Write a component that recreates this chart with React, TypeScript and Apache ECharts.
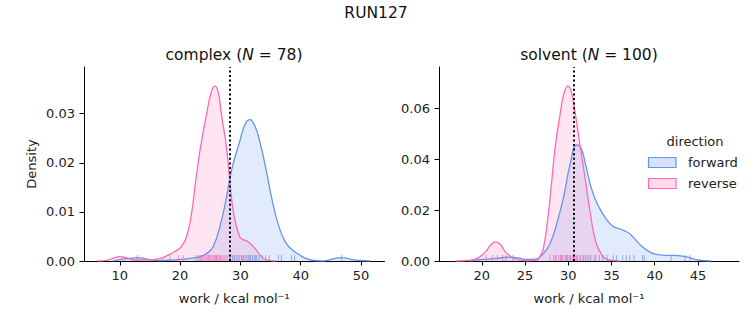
import React, { useEffect, useRef } from "react";
import * as echarts from "echarts";

const FONT = "DejaVu Sans";
const BLUE = "#6495ED";
const PINK = "#FF69B4";
const BLUE_FILL = "rgba(100,149,237,0.27)";
const PINK_FILL = "rgba(255,105,180,0.25)";

// KDE curves: [work, density]
const complexForward: number[][] = [
  [8.9, 0], [9.6, 0.0002], [11.3, 0.0005], [12.9, 0.0007], [14.5, 0.0004], [16.5, 0.0001],
  [18.5, 0.0002], [20.5, 0.0004], [22.0, 0.0006], [23.3, 0.0009], [24.5, 0.0016], [25.47, 0.0029],
  [26.58, 0.0069], [27.7, 0.013], [28.52, 0.0184], [29.9, 0.0244], [30.8, 0.0279], [31.56, 0.0288],
  [32.4, 0.0275], [33.2, 0.0244], [34.3, 0.0184], [35.16, 0.013], [36.25, 0.0076], [37.5, 0.0038],
  [38.7, 0.0022], [40.0, 0.0011], [40.9, 0.0005], [42.2, 0.0001], [43.5, 0.0], [45.0, 0.0003],
  [46.8, 0.0007], [48.5, 0.0003], [50.0, 0.0001], [51.5, 0],
];
const complexReverse: number[][] = [
  [6.4, 0], [8.0, 0.0002], [9.0, 0.0006], [10.0, 0.0009], [11.0, 0.0007], [12.5, 0.0002],
  [14.5, 0.0002], [16.7, 0.0005], [18.0, 0.0012], [19.2, 0.002], [20.2, 0.0029], [21.06, 0.0049],
  [21.89, 0.0096], [22.6, 0.0164], [23.38, 0.0231], [24.38, 0.0298], [25.1, 0.034], [25.75, 0.0356],
  [26.3, 0.0345], [26.86, 0.0298], [27.7, 0.0231], [28.24, 0.0164], [28.9, 0.0096], [29.9, 0.0049],
  [30.6, 0.0043], [31.27, 0.0039], [32.4, 0.0026], [33.5, 0.0009], [34.5, 0.0002], [36.0, 0],
];
const solventForward: number[][] = [
  [18.5, 0], [19.5, 0.0004], [20.5, 0.0007], [21.6, 0.001], [23.1, 0.0015], [24.2, 0.0012],
  [25.2, 0.0006], [26.2, 0.0007], [27.13, 0.003], [27.9, 0.0069], [28.68, 0.0148], [29.46, 0.0252],
  [30.23, 0.0383], [31.0, 0.0457], [31.5, 0.0443], [31.98, 0.0383], [32.75, 0.0278], [33.53, 0.0213],
  [34.5, 0.0161], [35.2, 0.0136], [36.05, 0.0125], [37.0, 0.011], [37.5, 0.0094], [38.6, 0.0055],
  [39.5, 0.0034], [40.2, 0.0026], [41.2, 0.0022], [42.1, 0.0022], [43.0, 0.002], [43.7, 0.0016],
  [45.2, 0.0003], [46.5, 0],
];
const solventReverse: number[][] = [
  [17.0, 0], [18.3, 0.0002], [19.3, 0.0008], [20.4, 0.0035], [21.0, 0.0062], [21.6, 0.0075],
  [22.2, 0.0063], [22.75, 0.0035], [23.9, 0.0008], [25.1, 0.0001], [26.4, 0.0004], [26.7, 0.0015],
  [27.15, 0.0055], [27.7, 0.0187], [28.1, 0.0318], [28.49, 0.0448], [29.07, 0.058], [29.5, 0.066],
  [29.96, 0.069], [30.4, 0.066], [30.81, 0.058], [31.4, 0.0448], [31.98, 0.0318], [32.56, 0.0187],
  [33.14, 0.0082], [33.9, 0.0024], [34.9, 0.0003], [36.0, 0],
];

// Rug samples
const complexForwardRug = [12.9, 23.5, 26.0, 28.4, 28.7, 29.0, 29.3, 29.6, 29.9, 30.2, 30.5, 30.8, 31.1, 31.4, 31.7, 32.0, 32.3, 32.7, 33.1, 33.6, 34.2, 34.8, 36.3, 36.8, 38.5, 39.0, 46.8];
const complexReverseRug = [18.3, 19.7, 20.5, 22.6, 22.9, 23.2, 23.5, 23.8, 24.0, 24.3, 24.5, 24.7, 24.9, 25.1, 25.3, 25.5, 25.7, 25.9, 26.1, 26.3, 26.5, 26.7, 27.0, 27.3, 27.6, 27.9, 28.2, 29.0, 30.4, 31.5, 32.5];
const solventForwardRug = [22.8, 23.6, 28.5, 29.2, 29.8, 30.2, 30.6, 31.0, 31.4, 31.8, 32.2, 32.6, 33.2, 33.6, 34.0, 34.5, 35.2, 35.6, 36.3, 36.7, 37.1, 37.6, 38.6, 38.8, 41.9, 43.5, 44.1];
const solventReverseRug = [20.5, 21.2, 21.8, 22.4, 27.9, 28.3, 28.6, 28.9, 29.1, 29.3, 29.5, 29.7, 29.9, 30.1, 30.3, 30.5, 30.7, 30.9, 31.1, 31.4, 31.7, 32.0, 32.4, 33.0];

// Mean / reference lines
const complexMarker = 28.24;
const solventMarker = 30.66;

const complexTicks = [10, 20, 30, 40, 50];
const solventTicks = [20, 25, 30, 35, 40, 45];

export default function App() {
  const ref = useRef<HTMLDivElement>(null);
  useEffect(() => {
    if (!ref.current) return;
    const chart = echarts.init(ref.current, undefined, { renderer: "svg" });
    const axisLine = { show: true, lineStyle: { color: "#000", width: 1 } };
    const tickStyle = { show: true, length: 4.5, lineStyle: { color: "#000", width: 1 } };
    const labelStyle = { color: "#222", fontFamily: FONT, fontSize: 13 };
    const mkX = (idx: number, min: number, max: number, ticks: number[]) => ({
      type: "value",
      gridIndex: idx,
      min,
      max,
      axisLine,
      axisTick: { ...tickStyle, customValues: ticks },
      axisLabel: { ...labelStyle, margin: 8, customValues: ticks },
      splitLine: { show: false },
      name: "work / kcal mol⁻¹",
      nameLocation: "middle",
      nameGap: 31,
      nameTextStyle: { color: "#222", fontFamily: FONT, fontSize: 13 },
    });
    const mkY = (idx: number, max: number, interval: number) => ({
      type: "value",
      gridIndex: idx,
      min: 0,
      max,
      interval,
      axisLine,
      axisTick: tickStyle,
      axisLabel: { ...labelStyle, margin: 9, formatter: (v: number) => v.toFixed(2), showMaxLabel: false },
      splitLine: { show: false },
    });
    const curve = (name: string, data: number[][], idx: number, color: string, fill: string, marker?: number) => ({
      type: "line",
      name,
      xAxisIndex: idx,
      yAxisIndex: idx,
      data,
      smooth: 0.5,
      showSymbol: false,
      symbol: "none",
      lineStyle: { color, width: 1.3 },
      areaStyle: { color: fill, origin: "start" },
      z: 2,
      markLine:
        marker !== undefined
          ? {
              silent: true,
              symbol: "none",
              label: { show: false },
              lineStyle: { color: "#000", type: [2, 2.6], width: 2 },
              data: [{ xAxis: marker }],
              z: 5,
            }
          : undefined,
    });
    const rug = (name: string, vals: number[], idx: number, color: string) => ({
      type: "scatter",
      name,
      xAxisIndex: idx,
      yAxisIndex: idx,
      data: vals.map((v) => [v, 0]),
      symbol: "rect",
      symbolSize: [1, 6],
      symbolOffset: [0, -3],
      itemStyle: { color, opacity: 0.7 },
      z: 3,
      silent: true,
    });
    const legendText = { fontFamily: FONT, fontSize: 13, fill: "#222" };
    const rich = {
      a: { fontFamily: FONT, fontSize: 15.5, fill: "#111" },
      i: { fontFamily: FONT, fontSize: 15.5, fontStyle: "italic", fill: "#111" },
    };
    chart.setOption({
      animation: false,
      grid: [
        { left: 84, top: 67, width: 300.5, height: 194 },
        { left: 439, top: 67, width: 300, height: 194 },
      ],
      xAxis: [mkX(0, 4.07, 53.9, complexTicks), mkX(1, 15.05, 49.75, solventTicks)],
      yAxis: [mkY(0, 0.0395, 0.01), mkY(1, 0.0764, 0.02)],
      series: [
        curve("forward", complexForward, 0, BLUE, BLUE_FILL),
        curve("reverse", complexReverse, 0, PINK, PINK_FILL, complexMarker),
        rug("forward", complexForwardRug, 0, BLUE),
        rug("reverse", complexReverseRug, 0, PINK),
        curve("forward", solventForward, 1, BLUE, BLUE_FILL),
        curve("reverse", solventReverse, 1, PINK, PINK_FILL, solventMarker),
        rug("forward", solventForwardRug, 1, BLUE),
        rug("reverse", solventReverseRug, 1, PINK),
      ],
      graphic: [
        {
          type: "text", x: 376, y: 13,
          style: { text: "RUN127", fontFamily: FONT, fontSize: 15.5, fill: "#111", align: "center", verticalAlign: "middle" },
        },
        {
          type: "text", x: 234, y: 55,
          style: { text: "{a|complex (}{i|N}{a| = 78)}", align: "center", verticalAlign: "middle", rich },
        },
        {
          type: "text", x: 589, y: 55,
          style: { text: "{a|solvent (}{i|N}{a| = 100)}", align: "center", verticalAlign: "middle", rich },
        },
        {
          type: "text", x: 31, y: 164, rotation: Math.PI / 2,
          style: { text: "Density", fontFamily: FONT, fontSize: 13, fill: "#222", align: "center", verticalAlign: "middle" },
        },
        {
          type: "text", x: 695, y: 141,
          style: { ...legendText, text: "direction", align: "center", verticalAlign: "middle" },
        },
        {
          type: "rect", shape: { x: 648.5, y: 157.5, width: 27.5, height: 10 },
          style: { fill: BLUE_FILL, stroke: BLUE, lineWidth: 1.2 },
        },
        {
          type: "text", x: 688, y: 162,
          style: { ...legendText, text: "forward", align: "left", verticalAlign: "middle" },
        },
        {
          type: "rect", shape: { x: 648.5, y: 178.5, width: 27.5, height: 10 },
          style: { fill: PINK_FILL, stroke: PINK, lineWidth: 1.2 },
        },
        {
          type: "text", x: 688, y: 183,
          style: { ...legendText, text: "reverse", align: "left", verticalAlign: "middle" },
        },
      ],
    });
    return () => chart.dispose();
  }, []);
  return <div ref={ref} style={{ width: 753, height: 325, position: "absolute", left: 0, top: 0 }} />;
}
